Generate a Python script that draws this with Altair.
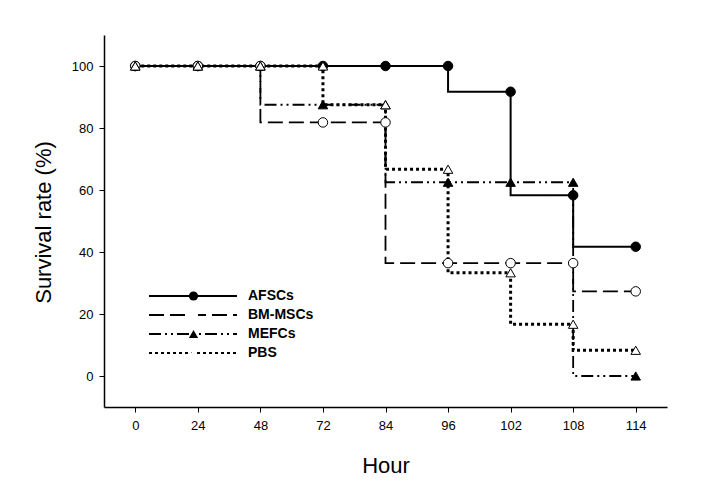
import altair as alt
import pandas as pd

# ---- data ----
hours = ["0", "24", "48", "72", "84", "96", "102", "108", "114"]
series = ["AFSCs", "BM-MSCs", "MEFCs", "PBS"]
# survival (%) after the events at each time point
afscs = [100, 100, 100, 100, 100, 91.7, 58.3, 41.7, 41.7]
bm_mscs = [100, 100, 81.8, 81.8, 36.4, 36.4, 36.4, 27.3, 27.3]
mefcs = [100, 100, 87.5, 87.5, 62.5, 62.5, 62.5, 0, 0]
pbs = [100, 100, 100, 87.5, 66.7, 33.3, 16.7, 8.3, 8.3]
values = {"AFSCs": afscs, "BM-MSCs": bm_mscs, "MEFCs": mefcs, "PBS": pbs}

line_rows = []
mark_rows = []
for s in series:
    v = values[s]
    for i, h in enumerate(hours):
        line_rows.append({"series": s, "pos": i, "surv": v[i]})
        # markers sit at the level just before the drop at that time
        mark_rows.append({"marker": s, "pos": i, "surv": v[i - 1] if i > 0 else v[0]})
line_df = pd.DataFrame(line_rows)
mark_df = pd.DataFrame(mark_rows)

label_expr = "[" + ",".join("'%s'" % h for h in hours) + "][datum.value]"

x_enc = alt.X("pos:Q", scale=alt.Scale(domain=[-0.5, len(hours) - 0.5], nice=False, zero=False),
              axis=alt.Axis(values=list(range(len(hours))), labelExpr=label_expr, title="Hour",
                            titleY=58, titleBaseline="middle", labelPadding=7))
y_enc = alt.Y("surv:Q", scale=alt.Scale(domain=[-10, 110], nice=False, zero=False),
              axis=alt.Axis(values=[0, 20, 40, 60, 80, 100], title="Survival rate (%)",
                            titleX=-61, titleY=187, titleBaseline="middle", labelPadding=6))

line_legend = alt.Legend(orient="none", legendX=44, legendY=253.5, direction="vertical",
                         title=None, symbolType="stroke", symbolSize=7744, clipHeight=15,
                         rowPadding=4, labelOffset=10, symbolOffset=0, padding=0,
                         symbolStrokeColor="black", symbolStrokeWidth=2,
                         labelFont="Liberation Sans", zindex=1,
                         labelFontSize=14, labelFontWeight="bold", labelColor="black")

lines = alt.Chart(line_df).mark_line(interpolate="step-after", color="black", strokeCap="butt").encode(
    x=x_enc,
    y=y_enc,
    strokeDash=alt.StrokeDash("series:N", scale=alt.Scale(domain=series,
                              range=[[1, 0], [15, 6], [12, 4, 2, 4, 2, 4], [3, 3]]),
                              legend=line_legend),
    strokeWidth={"condition": [{"test": "datum.series === 'PBS'", "value": 3},
                               {"test": "datum.series === 'AFSCs'", "value": 2}],
                 "value": 1.8},
)

mark_legend = alt.Legend(orient="none", legendX=44, legendY=253.5, direction="vertical",
                         title=None, symbolSize=85, clipHeight=15, rowPadding=4,
                         symbolOffset=40, padding=0, symbolStrokeColor="black",
                         symbolStrokeWidth=1, symbolOpacity=1, labelOpacity=0,
                         labelFontSize=1, zindex=2)

points = alt.Chart(mark_df).mark_point(filled=True, stroke="black", strokeWidth=1, size=90, opacity=1).encode(
    x="pos:Q",
    y="surv:Q",
    shape=alt.Shape("marker:N", scale=alt.Scale(
                    range=["circle", "circle", "triangle-up", "triangle-up"]), legend=mark_legend),
    color=alt.Color("marker:N", scale=alt.Scale(
                    range=["black", "white", "black", "white"]), legend=mark_legend),
)

chart = alt.layer(lines, points).properties(
    width=563, height=372,
    autosize=alt.AutoSizeParams(type="none"),
    padding={"left": 96, "top": 27, "right": 41, "bottom": 79},
).configure_view(stroke=None).configure_axis(
    grid=False, domainColor="black", domainWidth=1.5, tickColor="black", tickSize=5,
    tickWidth=1, labelFont="Liberation Sans", labelFontSize=13, labelColor="black",
    titleFont="Liberation Sans", titleFontSize=22, titleFontWeight="normal", titleColor="black",
)

chart.save("out.html", embed_options={"renderer": "svg", "actions": False})
